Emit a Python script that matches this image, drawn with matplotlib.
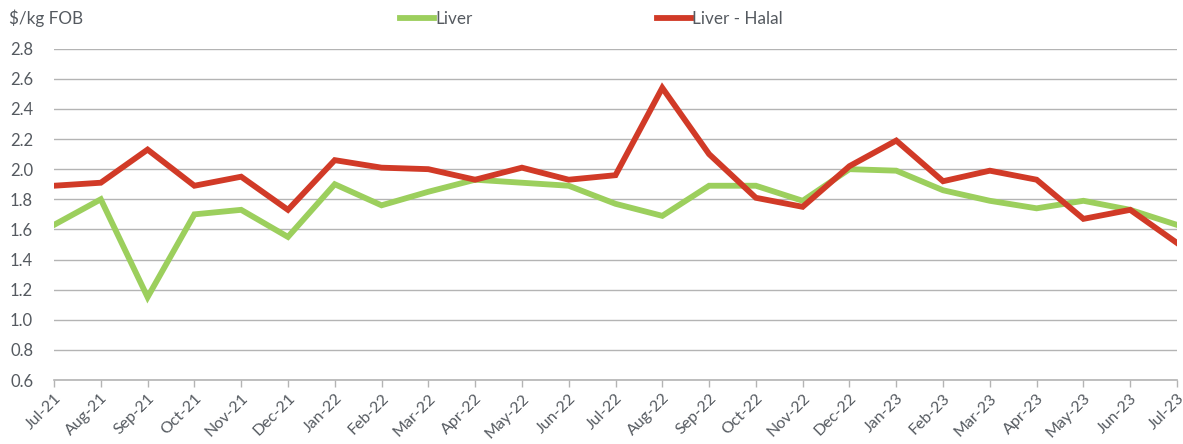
import matplotlib
matplotlib.use("Agg")
import matplotlib.pyplot as plt
from matplotlib.lines import Line2D

months = ["Jul-21", "Aug-21", "Sep-21", "Oct-21", "Nov-21", "Dec-21", "Jan-22", "Feb-22",
          "Mar-22", "Apr-22", "May-22", "Jun-22", "Jul-22", "Aug-22", "Sep-22", "Oct-22",
          "Nov-22", "Dec-22", "Jan-23", "Feb-23", "Mar-23", "Apr-23", "May-23", "Jun-23", "Jul-23"]
liver = [1.63, 1.80, 1.15, 1.70, 1.73, 1.55, 1.90, 1.76, 1.85, 1.93, 1.91, 1.89, 1.77,
         1.69, 1.89, 1.89, 1.79, 2.00, 1.99, 1.86, 1.79, 1.74, 1.79, 1.73, 1.63]
liver_halal = [1.89, 1.91, 2.13, 1.89, 1.95, 1.73, 2.06, 2.01, 2.00, 1.93, 2.01, 1.93, 1.96,
               2.54, 2.10, 1.81, 1.75, 2.02, 2.19, 1.92, 1.99, 1.93, 1.67, 1.73, 1.51]
yticks = [0.6, 0.8, 1.0, 1.2, 1.4, 1.6, 1.8, 2.0, 2.2, 2.4, 2.6, 2.8]

GREEN = "#9ccf5d"
RED = "#d13a27"
TXT = "#555a60"
GRID = "#b4b4b4"

plt.rcParams['font.family'] = ['Lato', 'DejaVu Sans']

fig = plt.figure(figsize=(11.83, 4.44), dpi=100)
ax = fig.add_axes([54/1183, 1-380/444, (1177-54)/1183, (380-48.7)/444])

x = list(range(len(months)))
ax.plot(x, liver, color=GREEN, lw=4.2, solid_joinstyle='miter', label="Liver", zorder=3)
ax.plot(x, liver_halal, color=RED, lw=4.2, solid_joinstyle='miter', label="Liver - Halal", zorder=4)

ax.set_xlim(0, len(months)-1)
ax.set_ylim(0.6, 2.8)
ax.set_yticks(yticks)
ax.set_yticklabels([f"{v:.1f}" for v in yticks], fontsize=12, color=TXT)
ax.set_xticks(x)
ax.set_xticklabels(months, rotation=45, ha='right', rotation_mode='anchor', fontsize=11.5, color=TXT)
ax.tick_params(axis='y', length=0, pad=15)
ax.tick_params(axis='x', length=5, width=1, color=GRID, pad=3)
ax.grid(axis='y', color=GRID, lw=1)
ax.set_axisbelow(True)
for s in ['left', 'right', 'top']:
    ax.spines[s].set_visible(False)
ax.spines['bottom'].set_color(GRID)
ax.spines['bottom'].set_linewidth(1.2)

fig.text(9/1183, 1-18/444, "$/kg FOB", fontsize=12.3, color=TXT, va='center', ha='left')

handles = [Line2D([], [], color=GREEN, lw=4.2), Line2D([], [], color=RED, lw=4.2)]
fig.legend(handles, ["Liver", "Liver - Halal"], loc='center', bbox_to_anchor=(0.5, 1-19/444),
           ncol=2, frameon=False, fontsize=12.3, handlelength=2.0, handletextpad=0.05,
           columnspacing=10.8, labelcolor=TXT)

fig.savefig("out.png", dpi=100)
